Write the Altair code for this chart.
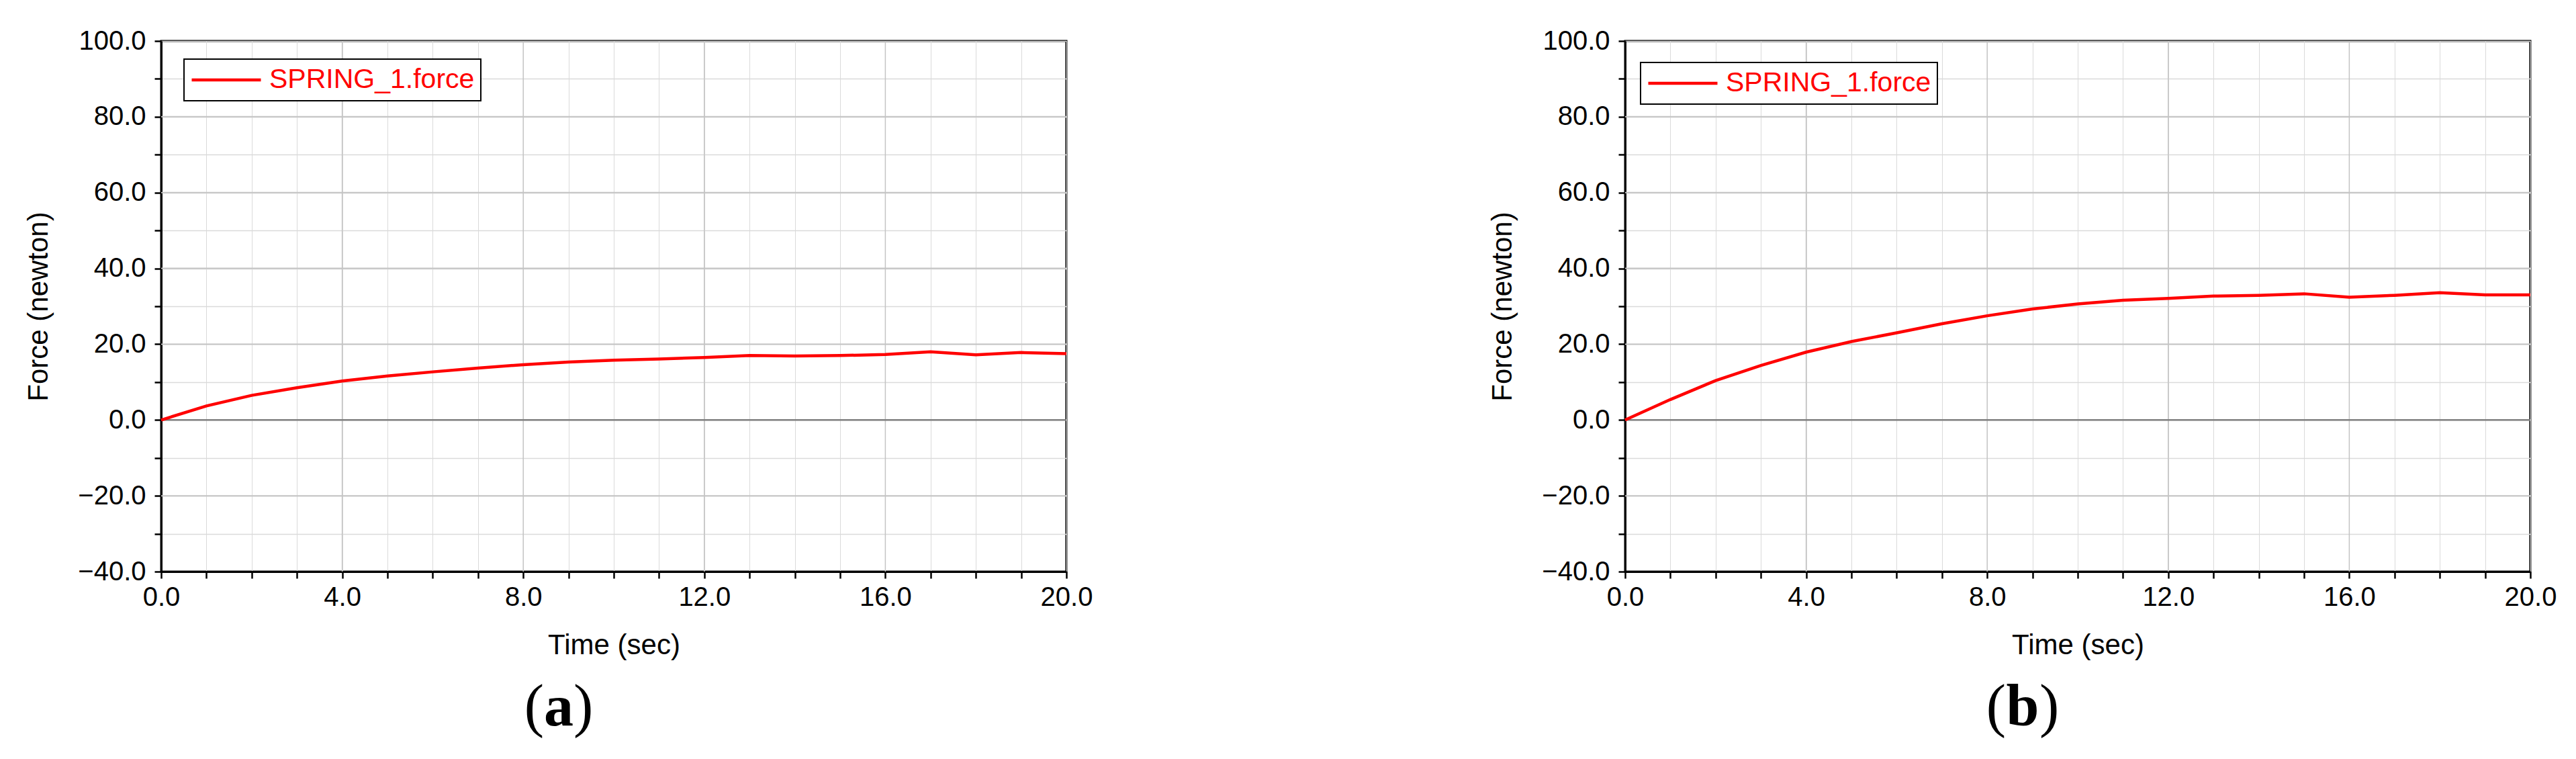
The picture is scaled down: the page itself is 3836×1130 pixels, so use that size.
import altair as alt
import pandas as pd

# ---------------- data ----------------
time_s = [0, 1, 2, 3, 4, 5, 6, 7, 8, 9, 10, 11, 12, 13, 14, 15, 16, 17, 18, 19, 20]
force_a = [0.0, 3.7, 6.5, 8.5, 10.3, 11.6, 12.7, 13.7, 14.6, 15.3, 15.8,
           16.1, 16.5, 17.0, 16.9, 17.0, 17.3, 18.0, 17.2, 17.8, 17.5]
force_b = [0.0, 5.4, 10.4, 14.4, 17.9, 20.7, 23.0, 25.4, 27.5, 29.3, 30.6,
           31.6, 32.1, 32.7, 32.9, 33.3, 32.4, 32.9, 33.6, 33.0, 33.0]
series_name = "SPRING_1.force"
captions = ["a", "b"]
x_title = "Time (sec)"
y_title = "Force (newton)"

x_ticks = [0, 1, 2, 3, 4, 5, 6, 7, 8, 9, 10, 11, 12, 13, 14, 15, 16, 17, 18, 19, 20]
x_major = [4, 8, 12, 16]
y_ticks = [-40, -30, -20, -10, 0, 10, 20, 30, 40, 50, 60, 70, 80, 90, 100]
y_major = [-20, 20, 40, 60, 80]
zero_line = [0]

FONT = "Liberation Sans"
W, H = 1348, 790


def panel(force, cap, lx, ly, cap_half):
    df = pd.DataFrame({"t": time_s, "f": force, "s": [series_name] * len(time_s)})
    xs = alt.Scale(domain=[0, 20], nice=False, zero=False)
    ys = alt.Scale(domain=[-40, 100], nice=False, zero=False)

    xax = alt.Axis(
        values=x_ticks,
        labelExpr="datum.value % 4 == 0 ? format(datum.value, '.1f') : ''",
        title=x_title, grid=True, gridColor="#dadada", gridWidth=1,
        tickSize=10, tickWidth=2.5, tickColor="black",
        domainColor="black", domainWidth=3,
        labelFont=FONT, labelFontSize=40, labelColor="black", labelPadding=8,
        labelFlush=False, labelOverlap=False,
        titleFont=FONT, titleFontSize=42, titleFontWeight="normal",
        titleColor="black", titlePadding=31,
    )
    yax = alt.Axis(
        values=y_ticks,
        labelExpr="datum.value % 20 == 0 ? format(datum.value, '.1f') : ''",
        title=y_title, grid=True, gridColor="#dadada", gridWidth=1.5,
        tickSize=10, tickWidth=2.5, tickColor="black",
        domainColor="black", domainWidth=3,
        labelFont=FONT, labelFontSize=40, labelColor="black", labelPadding=13,
        labelOverlap=False,
        titleFont=FONT, titleFontSize=42, titleFontWeight="normal",
        titleColor="black", titlePadding=36,
    )

    vmaj = alt.Chart(pd.DataFrame({"v": x_major})).mark_rule(
        color="#c4c4c4", strokeWidth=1.5
    ).encode(x=alt.X("v:Q", scale=xs, axis=xax))
    hmaj = alt.Chart(pd.DataFrame({"v": y_major})).mark_rule(
        color="#c4c4c4", strokeWidth=2
    ).encode(y=alt.Y("v:Q", scale=ys, axis=yax))
    zero = alt.Chart(pd.DataFrame({"v": zero_line})).mark_rule(
        color="#808080", strokeWidth=2.5
    ).encode(y=alt.Y("v:Q", scale=ys, axis=yax))

    line = alt.Chart(df).mark_line(strokeWidth=4.5).encode(
        x=alt.X("t:Q", scale=xs, axis=xax),
        y=alt.Y("f:Q", scale=ys, axis=yax),
        color=alt.Color(
            "s:N",
            scale=alt.Scale(domain=[series_name], range=["#ff0000"]),
            legend=alt.Legend(
                orient="none", legendX=lx, legendY=ly, title=None,
                symbolType="stroke", symbolSize=10609, symbolStrokeWidth=4.5,
                clipHeight=44,
                labelFont=FONT, labelFontSize=41, labelColor="#ff0000",
                labelOffset=10, labelLimit=2000, padding=9,
                strokeColor="black", fillColor="white",
            ),
        ),
    )

    cap_data = alt.Data(values=[{"c": cap}])
    cx, cy = 592, 1019
    cap_mid = alt.Chart(cap_data).mark_text(
        font="Liberation Serif", fontSize=88, fontWeight="bold",
        baseline="alphabetic", align="center", color="black",
    ).encode(x=alt.value(cx), y=alt.value(cy), text="c:N")
    cap_l = alt.Chart(cap_data).mark_text(
        text="(", font="Liberation Serif", fontSize=88,
        baseline="alphabetic", align="right", color="black",
    ).encode(x=alt.value(cx - cap_half), y=alt.value(cy))
    cap_r = alt.Chart(cap_data).mark_text(
        text=")", font="Liberation Serif", fontSize=88,
        baseline="alphabetic", align="left", color="black",
    ).encode(x=alt.value(cx + cap_half), y=alt.value(cy))

    return alt.layer(vmaj, hmaj, zero, line, cap_l, cap_mid, cap_r).properties(
        width=W, height=H
    )


left = panel(force_a, captions[0], 34, 27, 22)
right = panel(force_b, captions[1], 23, 32, 25)

chart = (
    alt.hconcat(left, right, spacing=832, bounds="flush")
    .resolve_scale(color="independent")
    .resolve_legend(color="independent")
    .properties(padding={"left": 27, "top": 31, "right": 10, "bottom": 5})
    .configure(font=FONT, background="white")
    .configure_view(stroke="black", strokeWidth=3)
    .configure_legend(strokeWidth=2)
)

chart.save("out.html", embed_options={"renderer": "svg", "actions": False})
